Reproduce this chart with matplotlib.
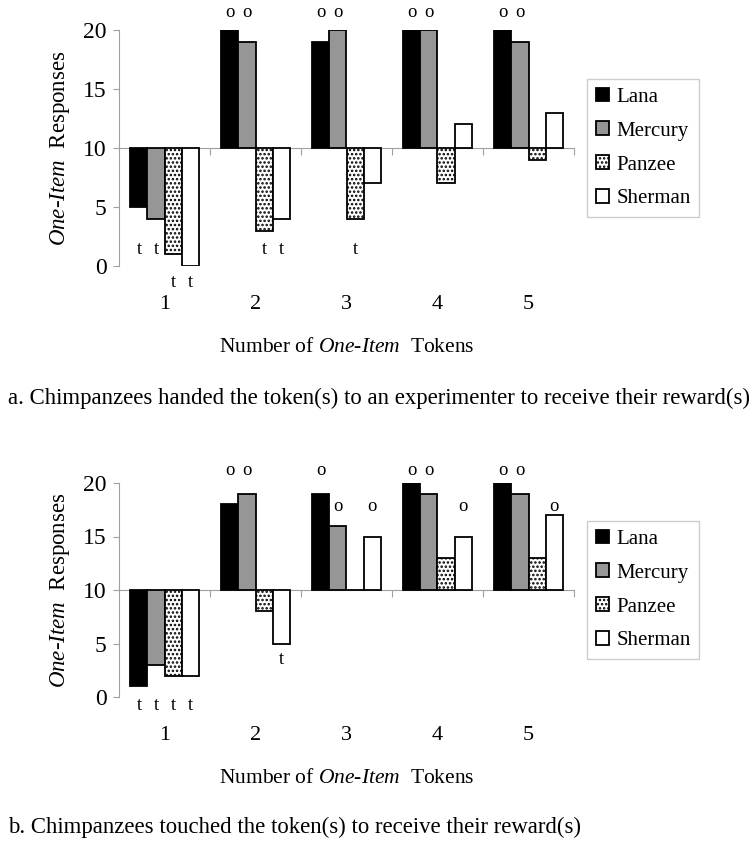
import numpy as np
import matplotlib
matplotlib.use("Agg")
import matplotlib.pyplot as plt

plt.rcParams['font.family'] = ['Liberation Serif', 'DejaVu Serif']
plt.rcParams['mathtext.fontset'] = 'custom'
plt.rcParams['mathtext.rm'] = 'Liberation Serif'
plt.rcParams['mathtext.it'] = 'Liberation Serif:italic'
plt.rcParams['hatch.linewidth'] = 1.2

tokens = ['1', '2', '3', '4', '5']
names = ['Lana', 'Mercury', 'Panzee', 'Sherman']

# panel a: handed tokens to experimenter
a_vals = {
    'Lana':    [5, 20, 19, 20, 20],
    'Mercury': [4, 19, 20, 20, 19],
    'Panzee':  [1, 3, 4, 7, 9],
    'Sherman': [0, 4, 7, 12, 13],
}
# panel b: touched tokens
b_vals = {
    'Lana':    [1, 18, 19, 20, 20],
    'Mercury': [3, 19, 16, 19, 19],
    'Panzee':  [2, 8, 10, 13, 13],
    'Sherman': [2, 5, 15, 15, 17],
}

# significance marks: (token index, chimp, mark, label row)
a_marks = [
    (0, 'Lana', 't', 'low'), (0, 'Mercury', 't', 'low'),
    (0, 'Panzee', 't', 'under'), (0, 'Sherman', 't', 'under'),
    (1, 'Lana', 'o', 'top'), (1, 'Mercury', 'o', 'top'),
    (1, 'Panzee', 't', 'low'), (1, 'Sherman', 't', 'low'),
    (2, 'Lana', 'o', 'top'), (2, 'Mercury', 'o', 'top'),
    (2, 'Panzee', 't', 'low'),
    (3, 'Lana', 'o', 'top'), (3, 'Mercury', 'o', 'top'),
    (4, 'Lana', 'o', 'top'), (4, 'Mercury', 'o', 'top'),
]
b_marks = [
    (0, 'Lana', 't', 'under'), (0, 'Mercury', 't', 'under'),
    (0, 'Panzee', 't', 'under'), (0, 'Sherman', 't', 'under'),
    (1, 'Lana', 'o', 'top'), (1, 'Mercury', 'o', 'top'),
    (1, 'Sherman', 't', 'low'),
    (2, 'Lana', 'o', 'top'), (2, 'Mercury', 'o', 'mid'),
    (2, 'Sherman', 'o', 'mid'),
    (3, 'Lana', 'o', 'top'), (3, 'Mercury', 'o', 'top'),
    (3, 'Sherman', 'o', 'mid'),
    (4, 'Lana', 'o', 'top'), (4, 'Mercury', 'o', 'top'),
    (4, 'Sherman', 'o', 'mid'),
]

a_rows = {'top': 21.5, 'mid': 17.8, 'low': 1.4, 'under': -1.4}
b_rows = {'top': 21.2, 'mid': 17.8, 'low': 3.5, 'under': -0.8}

styles = {
    'Lana':    dict(color='black', hatch=None),
    'Mercury': dict(color='#969696', hatch=None),
    'Panzee':  dict(color='white', hatch='....'),
    'Sherman': dict(color='white', hatch=None),
}

W, H = 754, 849
fig = plt.figure(figsize=(W / 100, H / 100), dpi=100)


def panel(rect, vals, marks, rows, caption, cap_y):
    ax = fig.add_axes(rect)
    x = np.arange(1, len(tokens) + 1)
    w = 0.187
    for i, n in enumerate(names):
        v = np.array(vals[n])
        ax.bar(x + (i - 1.5) * w, v - 10, bottom=10, width=w,
               color=styles[n]['color'], hatch=styles[n]['hatch'],
               edgecolor='black', linewidth=1.3, label=n, zorder=3)
    for g, n, m, r in marks:
        i = names.index(n)
        ax.text(x[g] + (i - 1.5) * w, rows[r], m, ha='center', va='center',
                fontsize=13.5, clip_on=False)
    ax.set_xlim(0.5, 5.5)
    ax.set_ylim(0, 20)
    ax.set_yticks([0, 5, 10, 15, 20])
    ax.tick_params(axis='y', labelsize=17, color='#a0a0a0', length=4, pad=5)
    for s in ['top', 'right']:
        ax.spines[s].set_visible(False)
    ax.spines['left'].set_color('#a0a0a0')
    ax.spines['bottom'].set_position(('data', 10))
    ax.spines['bottom'].set_color('#a0a0a0')
    ax.set_xticks(x + 0.5)
    ax.set_xticklabels([])
    ax.tick_params(axis='x', color='#a0a0a0', length=5)
    sec = ax.secondary_xaxis(0)
    sec.set_xticks(x, tokens)
    sec.tick_params(length=0, pad=21, labelsize=16)
    sec.spines['bottom'].set_visible(False)
    sec.set_xlabel('Number of $\\mathit{One}$-$\\mathit{Item}$  Tokens',
                   fontsize=15.5, labelpad=17)
    ax.set_ylabel('$\\mathit{One}$-$\\mathit{Item}$  Responses', fontsize=16.5,
                  labelpad=8)
    leg = ax.legend(loc='center left', bbox_to_anchor=(1.029, 0.5),
                    borderaxespad=0, fontsize=15, frameon=True, fancybox=False,
                    handlelength=0.65, handleheight=0.65, handletextpad=0.35,
                    labelspacing=0.7, borderpad=0.4)
    leg.get_frame().set_edgecolor('#c0c0c0')
    leg.get_frame().set_linewidth(1)
    fig.text(8 / W, 1 - cap_y / H, caption, fontsize=16.4, va='center',
             ha='left')
    return ax


panel([119 / W, 1 - 266 / H, 455 / W, 236 / H], a_vals, a_marks, a_rows,
      'a. Chimpanzees handed the token(s) to an experimenter to receive their reward(s)',
      398)
panel([119 / W, 1 - 697 / H, 455 / W, 214 / H], b_vals, b_marks, b_rows,
      'b. Chimpanzees touched the token(s) to receive their reward(s)', 827)

fig.savefig('out.png', dpi=100, facecolor='white')
